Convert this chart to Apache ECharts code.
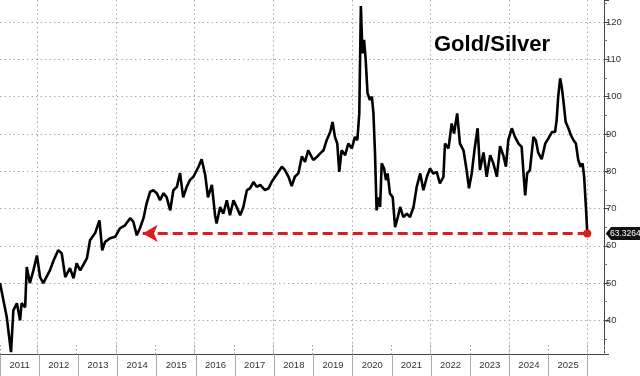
<!DOCTYPE html>
<html>
<head>
<meta charset="utf-8">
<script src="https://cdn.jsdelivr.net/npm/echarts@6/dist/echarts.min.js"></script>
<style>
html, body { margin: 0; padding: 0; background: #fff; }
#chart { width: 640px; height: 376px; }
</style>
</head>
<body>
<div id="chart"></div>
<script>
// year labels under the plot
var yearLabels = ['2011', '2012', '2013', '2014', '2015', '2016', '2017', '2018',
    '2019', '2020', '2021', '2022', '2023', '2024', '2025'];

// time (decimal years)
var dates = [
    2011.05, 2011.22, 2011.33, 2011.39, 2011.48, 2011.56, 2011.60, 2011.69, 2011.73, 2011.81, 2011.90, 2011.99,
    2012.07, 2012.15, 2012.32, 2012.41, 2012.53, 2012.62, 2012.71, 2012.83, 2012.92,
    2013.00, 2013.09, 2013.26, 2013.34, 2013.47, 2013.58, 2013.65, 2013.72, 2013.85, 2013.98,
    2014.10, 2014.23, 2014.36, 2014.44, 2014.53, 2014.61, 2014.70, 2014.78, 2014.87, 2014.95,
    2015.04, 2015.12, 2015.21, 2015.29, 2015.38, 2015.46, 2015.55, 2015.63, 2015.71, 2015.80, 2015.88, 2015.97,
    2016.10, 2016.18, 2016.27, 2016.34, 2016.44, 2016.52, 2016.56, 2016.65, 2016.73, 2016.82, 2016.90, 2016.99,
    2017.07, 2017.16, 2017.24, 2017.33, 2017.41, 2017.50, 2017.58, 2017.67, 2017.79, 2017.88, 2017.96,
    2018.05, 2018.13, 2018.22, 2018.30, 2018.39, 2018.47, 2018.55, 2018.64, 2018.73, 2018.81, 2018.89, 2018.94,
    2019.02, 2019.11, 2019.19, 2019.28, 2019.36, 2019.45, 2019.51, 2019.57, 2019.63, 2019.68, 2019.74, 2019.83, 2019.91,
    2020.00, 2020.08, 2020.14, 2020.19, 2020.23, 2020.27, 2020.31, 2020.35, 2020.40, 2020.46, 2020.51,
    2020.55, 2020.59, 2020.63, 2020.67, 2020.72, 2020.76, 2020.82, 2020.87, 2020.91, 2020.97,
    2021.04, 2021.10, 2021.17, 2021.23, 2021.31, 2021.40, 2021.48, 2021.57, 2021.65, 2021.74, 2021.82, 2021.91, 2021.99,
    2022.07, 2022.16, 2022.24, 2022.33, 2022.37, 2022.46, 2022.54, 2022.60, 2022.68, 2022.75, 2022.84, 2022.92, 2022.98,
    2023.05, 2023.13, 2023.20, 2023.26, 2023.35, 2023.43, 2023.52, 2023.60, 2023.69, 2023.77, 2023.86, 2023.92, 2023.98,
    2024.07, 2024.15, 2024.24, 2024.32, 2024.38, 2024.41, 2024.46, 2024.53, 2024.62, 2024.68, 2024.74, 2024.83, 2024.92,
    2025.00, 2025.09, 2025.17, 2025.21, 2025.25, 2025.30, 2025.34, 2025.38, 2025.44, 2025.51,
    2025.57, 2025.64, 2025.70, 2025.76, 2025.82, 2025.87, 2025.91, 2025.96, 2025.99
];

// gold / silver ratio
var ratio = [
    50, 41, 31.5, 42.7, 44.6, 40, 44.6, 43.5, 54.3, 50, 53.4, 57.4,
    51.6, 50, 53.4, 56, 58.8, 58, 51.6, 54, 51.3,
    55.3, 53.4, 56.6, 61.5, 63.4, 66.8, 58.8, 61, 62, 62.4,
    64.7, 65.5, 67.4, 66.5, 62.8, 64.7, 67.4, 71.4, 74.5, 74.9,
    74.1, 72.2, 74.1, 73, 69.5, 74.9, 75.8, 79.5, 73, 75.8, 77.6, 78.5,
    81.2, 83.2, 79, 73, 76.3, 68.2, 66, 70.4, 68.6, 72.2, 68.2, 72.2,
    70.4, 68.2, 70.4, 74.9, 75.4, 77.1, 75.8, 76.3, 74.9, 75.4, 77.1,
    78.5, 79.8, 81.2, 80.3, 78.5, 76, 78.5, 79.4, 84, 82.5, 85.6, 86.1,
    83, 83.8, 84.7, 85.6, 88.3, 90.5, 93.2, 89.2, 87.4, 79.8, 85.6, 84.3, 87.4,
    86.1, 89.2, 88.3, 95.5, 124.3, 111.6, 115.2, 110.3, 100.9, 99.1, 100,
    95.5, 84.7, 69.5, 73, 70.4, 82.1, 80.7, 77.6, 79.4, 74,
    73, 65, 67.7, 70.4, 67.7, 68.6, 67.7, 70.4, 75.8, 79.4, 74.9, 78.5, 80.7,
    79.4, 79.8, 76.7, 78.5, 87.4, 86.1, 92.8, 90.1, 95.5, 87.4, 85.6, 80.3, 75.4,
    79.4, 86.5, 91.5, 80.3, 85, 78.5, 84.3, 82.1, 78.5, 86.7, 84, 81.2, 88.3,
    91.5, 89.2, 87.4, 86.5, 77.6, 73.5, 79.4, 80.3, 89.2, 88.3, 85, 83.2, 87.4,
    88.8, 90.5, 90.5, 93.7, 100, 104.9, 102.6, 99.1, 93.2, 91.5,
    89.7, 88.3, 87.4, 83, 81.2, 82.1, 78.5, 69.5, 63.3264
];

var lastValue = 63.3264;
var arrowStart = 2014.68;   // where the red arrow points back to

var red = '#dd1c1c';
var gridLine = { color: '#aaa', type: [1.5, 3], width: 1 };

var seriesData = dates.map(function (d, i) { return [d, ratio[i]]; });
var lastPoint = seriesData[seriesData.length - 1];

var chart = echarts.init(document.getElementById('chart'));

var option = {
    animation: false,
    backgroundColor: '#fff',
    title: {
        text: 'Gold/Silver',
        left: 429,
        top: 29,
        textStyle: { fontFamily: 'Liberation Sans', fontWeight: 'bold', fontSize: 22, color: '#000' }
    },
    grid: [
        { left: 0, right: 36, top: 0, bottom: 21.5 },
        { left: -2, right: 52.3, top: 0, bottom: 21.5 }
    ],
    xAxis: [
        {
            type: 'value', gridIndex: 0, min: 2011.05, max: 2026.415, splitNumber: 8,
            axisLine: { lineStyle: { color: '#444', width: 1 } },
            axisLabel: { show: false },
            axisTick: { show: true, inside: true, length: 12, lineStyle: { color: '#999', type: [1.5, 2.5] } },
            minorTick: { show: true, splitNumber: 2, length: 12, lineStyle: { color: '#999', type: [1.5, 2.5] } },
            splitLine: { show: true, showMinLine: false, showMaxLine: false, lineStyle: gridLine }
        },
        {
            type: 'category', gridIndex: 1, data: yearLabels, boundaryGap: true,
            axisLine: { show: false },
            axisTick: { show: true, interval: 0, length: 22, lineStyle: { color: '#aaa' } },
            axisLabel: { interval: 0, margin: 6, fontSize: 9.5, color: '#333', fontFamily: 'Liberation Sans' },
            splitLine: { show: false }
        }
    ],
    yAxis: [
        {
            type: 'value', gridIndex: 0, position: 'right', min: 30.85, max: 125.9, splitNumber: 9,
            axisLine: { show: true, lineStyle: { color: '#444' } },
            axisTick: { show: true, length: 5, lineStyle: { color: '#444' } },
            minorTick: { show: true, splitNumber: 2, length: 3, lineStyle: { color: '#777' } },
            axisLabel: {
                margin: 2, fontSize: 9.5, color: '#333', fontFamily: 'Liberation Sans',
                formatter: function (v) { return v % 10 === 0 ? String(v) : ''; }
            },
            splitLine: { show: true, showMinLine: false, showMaxLine: false, lineStyle: gridLine }
        },
        { type: 'value', gridIndex: 1, show: false }
    ],
    series: [
        {
            type: 'line',
            xAxisIndex: 0,
            yAxisIndex: 0,
            data: seriesData,
            symbol: 'none',
            lineStyle: { color: '#000', width: 2.6 },
            itemStyle: { color: '#000' },
            markLine: {
                silent: true,
                symbol: ['arrow', 'none'],
                symbolSize: [13, 15],
                label: { show: false },
                lineStyle: { color: red, width: 3, type: [10, 5] },
                data: [[{ coord: [arrowStart, lastValue] }, { coord: [lastPoint[0], lastValue] }]]
            },
            markPoint: {
                silent: true,
                data: [
                    {
                        coord: lastPoint, symbol: 'circle', symbolSize: 8,
                        itemStyle: { color: red }, label: { show: false }
                    },
                    {
                        coord: lastPoint,
                        symbol: 'path://M0,6 L6,0 L40,0 L40,12 L6,12 Z',
                        symbolSize: [35, 13],
                        symbolOffset: [36, 0],
                        itemStyle: { color: '#111' },
                        label: {
                            show: true, position: 'inside', color: '#fff', fontSize: 8.5,
                            offset: [2, 0], fontFamily: 'Liberation Sans',
                            formatter: String(lastValue)
                        }
                    }
                ]
            }
        }
    ]
};

chart.setOption(option);
</script>
</body>
</html>
